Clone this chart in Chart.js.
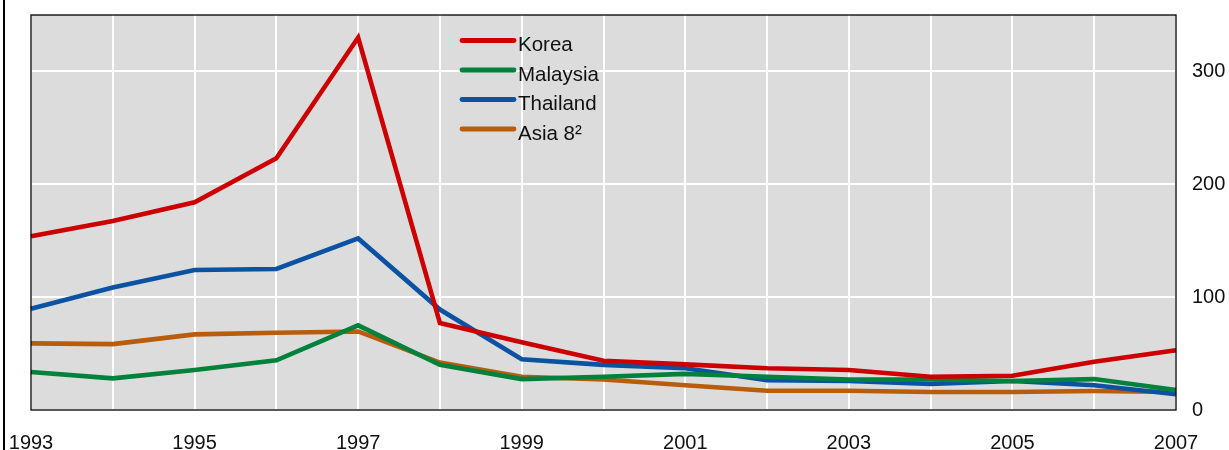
<!DOCTYPE html>
<html>
<head>
<meta charset="utf-8">
<script src="https://cdn.jsdelivr.net/npm/chart.js@4.4.0/dist/chart.umd.min.js"></script>
<style>
  html, body { margin: 0; padding: 0; background: #ffffff; }
  #wrap { width: 1229px; height: 450px; position: relative; }
</style>
</head>
<body>
<div id="wrap"><canvas id="c" width="1229" height="450"></canvas></div>
<script>
const years = [1993,1994,1995,1996,1997,1998,1999,2000,2001,2002,2003,2004,2005,2006,2007];
const xTickLabels = ['1993','1995','1997','1999','2001','2003','2005','2007'];
const yTickValues = [0,100,200,300];
const seriesNames = ['Korea','Malaysia','Thailand','Asia 8²'];
const korea    = [154,167.5,184,223,330,77,60,43.6,40.4,37,35.4,29.5,30.4,42.8,53];
const malaysia = [33.6,28,35.4,44,75,40,27.4,29.5,32,29.5,27,27,25.7,27.4,17.7];
const thailand = [89.7,108.6,124,125,152,89,45,40,37,26.5,25.7,23,25.7,22,14];
const asia8    = [59,58.4,67,68.4,69.6,42,29.5,27,22,17,17,16,16,16.8,16];
const seriesColors = ['#cc0000','#00823c','#0b52a3','#b95c0c'];

const FONT = '"Liberation Sans", Arial, sans-serif';

const framePlugin = {
  id: 'frame',
  beforeDraw(chart) {
    const {ctx, chartArea: a} = chart;
    ctx.save();
    ctx.fillStyle = '#dcdcdc';
    ctx.fillRect(a.left, a.top, a.right - a.left, a.bottom - a.top);
    ctx.fillStyle = '#000';
    ctx.fillRect(3, 0, 2, 450);
    ctx.restore();
  },
  afterDatasetsDraw(chart) {
    const {ctx, chartArea: a} = chart;
    ctx.save();
    ctx.strokeStyle = '#000';
    ctx.lineWidth = 1.3;
    ctx.strokeRect(a.left, a.top, a.right - a.left, a.bottom - a.top);
    // legend
    const lx0 = 462, lx1 = 514, tx = 518;
    const ys = [40.5, 70, 99.5, 129];
    ctx.font = '20.5px ' + FONT;
    ctx.textBaseline = 'alphabetic';
    ctx.textAlign = 'left';
    chart.data.datasets.forEach((ds, i) => {
      ctx.strokeStyle = ds.borderColor;
      ctx.lineWidth = 4.8;
      ctx.lineCap = 'round';
      ctx.beginPath();
      ctx.moveTo(lx0, ys[i]);
      ctx.lineTo(lx1, ys[i]);
      ctx.stroke();
      ctx.fillStyle = '#111';
      ctx.fillText(ds.label, tx, ys[i] + 10.5);
    });
    ctx.restore();
  }
};

new Chart(document.getElementById('c'), {
  type: 'line',
  data: {
    labels: years.map(String),
    datasets: [korea, malaysia, thailand, asia8].map((d, i) => ({
      label: seriesNames[i],
      data: d,
      borderColor: seriesColors[i],
      backgroundColor: seriesColors[i],
      borderWidth: 4.6,
      pointRadius: 0,
      tension: 0,
      fill: false,
      borderJoinStyle: 'miter'
    }))
  },
  options: {
    responsive: false,
    animation: false,
    devicePixelRatio: 1,
    layout: { padding: { left: 31, top: 15, right: 0, bottom: 0 } },
    plugins: { legend: { display: false }, tooltip: { enabled: false } },
    scales: {
      x: {
        offset: false,
        grid: { color: '#ffffff', lineWidth: 2, drawTicks: false },
        border: { display: false },
        ticks: {
          autoSkip: false, maxRotation: 0, minRotation: 0,
          padding: 21, color: '#111',
          font: { family: FONT, size: 20 },
          callback: function(v, i) {
            const l = String(years[i]);
            return xTickLabels.includes(l) ? l : '';
          }
        },
        afterFit(s) { s.height = 40; s.paddingLeft = 0; s.paddingRight = 0; }
      },
      y: {
        position: 'right',
        min: 0, max: 350,
        grid: { color: '#ffffff', lineWidth: 2, drawTicks: false },
        border: { display: false },
        afterBuildTicks(s) { s.ticks = yTickValues.map(v => ({ value: v })); },
        ticks: {
          padding: 16, color: '#111',
          font: { family: FONT, size: 20 },
          callback: v => String(v)
        },
        afterFit(s) { s.width = 53; s.paddingTop = 0; s.paddingBottom = 0; }
      }
    }
  },
  plugins: [framePlugin]
});
</script>
</body>
</html>
